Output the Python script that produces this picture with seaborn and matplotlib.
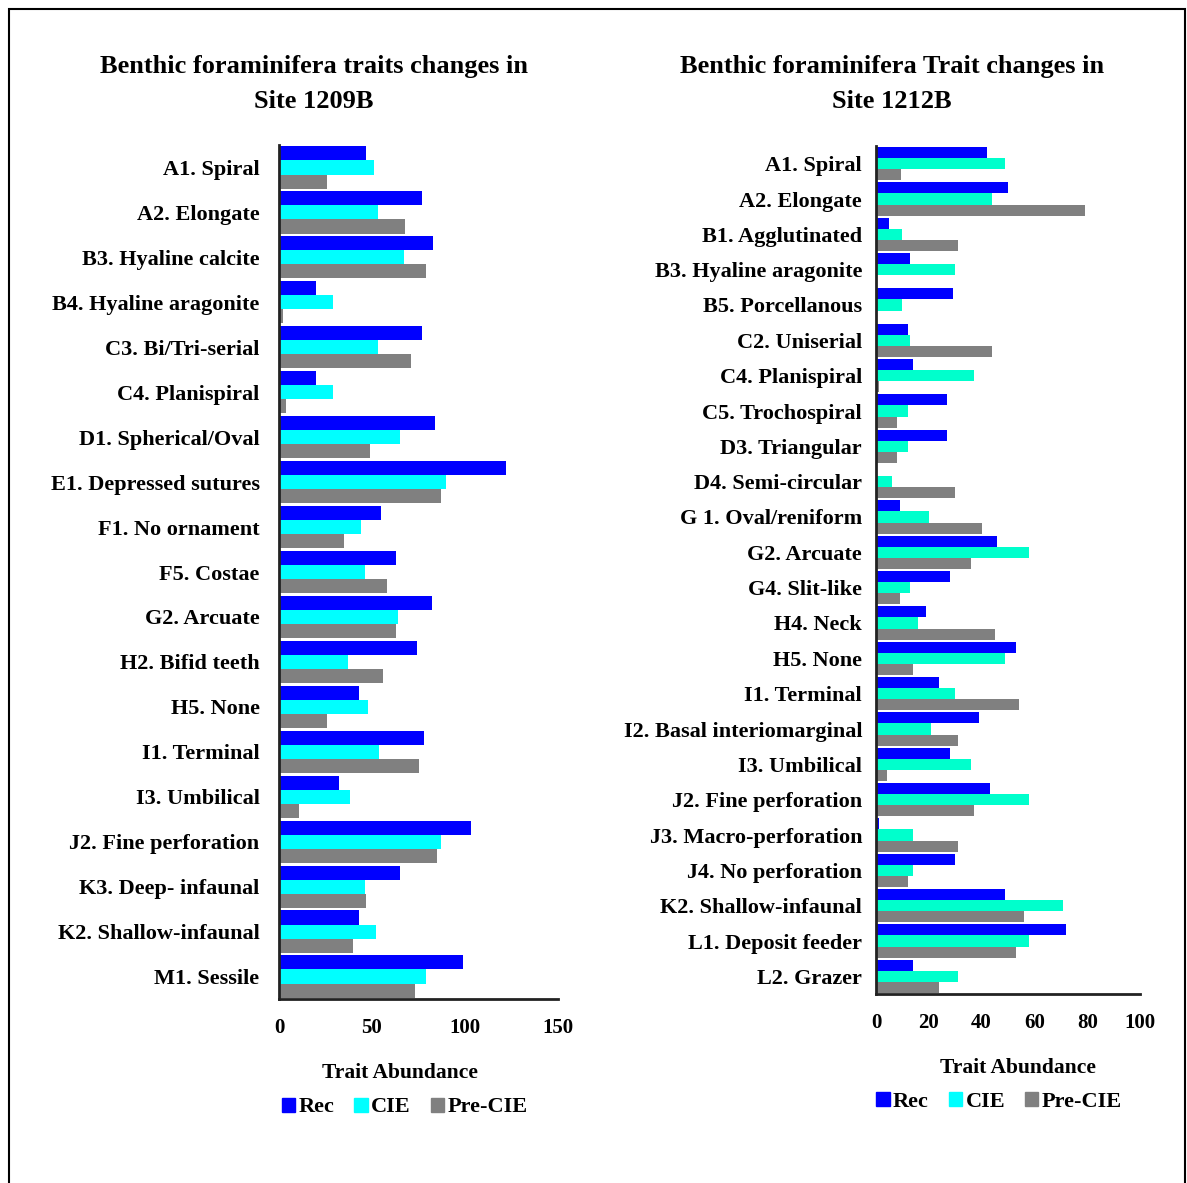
import numpy as np
import pandas as pd
import matplotlib
matplotlib.use('Agg')
import matplotlib.pyplot as plt
import seaborn as sns
from matplotlib.patches import Patch, Rectangle
from matplotlib.ticker import FixedLocator

# Site 1209B
traits_1209 = ['A1. Spiral', 'A2. Elongate', 'B3. Hyaline calcite', 'B4. Hyaline aragonite',
               'C3. Bi/Tri-serial', 'C4. Planispiral', 'D1. Spherical/Oval', 'E1. Depressed sutures',
               'F1. No ornament', 'F5. Costae', 'G2. Arcuate', 'H2. Bifid teeth', 'H5. None',
               'I1. Terminal', 'I3. Umbilical', 'J2. Fine perforation', 'K3. Deep- infaunal',
               'K2. Shallow-infaunal', 'M1. Sessile']
rec_1209 = [47, 77, 83, 20, 77, 20, 84, 122, 55, 63, 82, 74, 43, 78, 32, 103, 65, 43, 99]
cie_1209 = [51, 53, 67, 29, 53, 29, 65, 90, 44, 46, 64, 37, 48, 54, 38, 87, 46, 52, 79]
pre_1209 = [26, 68, 79, 2, 71, 4, 49, 87, 35, 58, 63, 56, 26, 75, 11, 85, 47, 40, 73]

# Site 1212B
traits_1212 = ['A1. Spiral', 'A2. Elongate', 'B1. Agglutinated', 'B3. Hyaline aragonite',
               'B5. Porcellanous', 'C2. Uniserial', 'C4. Planispiral', 'C5. Trochospiral',
               'D3. Triangular', 'D4. Semi-circular', 'G 1. Oval/reniform', 'G2. Arcuate',
               'G4. Slit-like', 'H4. Neck', 'H5. None', 'I1. Terminal', 'I2. Basal interiomarginal',
               'I3. Umbilical', 'J2. Fine perforation', 'J3. Macro-perforation', 'J4. No perforation',
               'K2. Shallow-infaunal', 'L1. Deposit feeder', 'L2. Grazer']
rec_1212 = [42, 50, 5, 13, 29, 12, 14, 27, 27, 0, 9, 46, 28, 19, 53, 24, 39, 28, 43, 1, 30, 49, 72, 14]
cie_1212 = [49, 44, 10, 30, 10, 13, 37, 12, 12, 6, 20, 58, 13, 16, 49, 30, 21, 36, 58, 14, 14, 71, 58, 31]
pre_1212 = [9.5, 79, 31, 0, 0, 44, 1, 8, 8, 30, 40, 36, 9, 45, 14, 54, 31, 4, 37, 31, 12, 56, 53, 24]

periods = ['Rec', 'CIE', 'Pre-CIE']

FONT = ['Liberation Serif', 'DejaVu Serif']


def long_table(traits, rec, cie, pre):
    rows = []
    for name, vals in zip(periods, [rec, cie, pre]):
        for t, v in zip(traits, vals):
            rows.append({'Trait': t, 'Period': name, 'Abundance': v})
    return pd.DataFrame(rows)


def draw_panel(ax, df, traits, colors, xmax, xstep, pad):
    sns.barplot(data=df, y='Trait', x='Abundance', hue='Period', order=traits,
                hue_order=periods, palette=colors, orient='h', width=0.94,
                errorbar=None, saturation=1, linewidth=0, legend=False, ax=ax)
    n = len(traits)
    ax.set_ylim(n - 0.5, -0.5)
    ax.set_xlim(0, xmax)
    ax.set_xticks(np.arange(0, xmax + 1, xstep))
    ax.yaxis.set_minor_locator(FixedLocator(np.arange(n + 1) - 0.5))
    ax.tick_params(axis='y', which='major', length=0, pad=pad, labelsize=16, labelcolor='black')
    ax.tick_params(axis='y', which='minor', length=6, width=2, direction='out', color='#222222')
    ax.tick_params(axis='x', length=6, width=1.5, labelsize=15, pad=8, color='#222222',
                   labelcolor='black')
    for lab in ax.get_yticklabels() + ax.get_xticklabels():
        lab.set_fontweight('bold')
    sns.despine(ax=ax)
    for s in ['left', 'bottom']:
        ax.spines[s].set_linewidth(2)
        ax.spines[s].set_color('#222222')
    ax.set_ylabel('')
    ax.set_xlabel('Trait Abundance', fontsize=15.5, fontweight='bold', color='black')


sns.set_style('white')
plt.rcParams['font.family'] = FONT
plt.rcParams['font.weight'] = 'bold'
plt.rcParams['text.color'] = 'black'

fig = plt.figure(figsize=(11.87, 11.83), dpi=100)

ax1 = fig.add_axes([279 / 1187, 1 - 999 / 1183, 279 / 1187, 854 / 1183])
ax2 = fig.add_axes([876 / 1187, 1 - 994 / 1183, 264 / 1187, 848 / 1183])

df1 = long_table(traits_1209, rec_1209, cie_1209, pre_1209)
df2 = long_table(traits_1212, rec_1212, cie_1212, pre_1212)

draw_panel(ax1, df1, traits_1209, ['#0000FF', '#00FFFF', '#808080'], 150, 50, 14)
draw_panel(ax2, df2, traits_1212, ['#0000FF', '#00FFCC', '#808080'], 100, 20, 10)

ax1.xaxis.set_label_coords(0.434, -0.075)
ax2.xaxis.set_label_coords(0.538, -0.075)

handles = [Patch(color=c) for c in ['#0000FF', '#00FFFF', '#808080']]
for ax, xc in [(ax1, 0.45), (ax2, 0.466)]:
    ax.legend(handles, periods, loc='center', bbox_to_anchor=(xc, -0.127), ncol=3,
              frameon=False, handlelength=0.6, handleheight=0.6, handletextpad=0.15,
              columnspacing=0.9, prop={'family': FONT, 'weight': 'bold', 'size': 16})

fig.text(314 / 1187, 1 - 67 / 1183, 'Benthic foraminifera traits changes in',
         ha='center', va='center', fontsize=19, fontweight='bold')
fig.text(314 / 1187, 1 - 102 / 1183, 'Site 1209B',
         ha='center', va='center', fontsize=19, fontweight='bold')
fig.text(892 / 1187, 1 - 67 / 1183, 'Benthic foraminifera Trait changes in',
         ha='center', va='center', fontsize=19, fontweight='bold')
fig.text(892 / 1187, 1 - 102 / 1183, 'Site 1212B',
         ha='center', va='center', fontsize=19, fontweight='bold')

fig.patches.append(Rectangle((9 / 1187, -0.02), 1176 / 1187, 1 - 9 / 1183 + 0.02,
                             transform=fig.transFigure, fill=False, edgecolor='black',
                             linewidth=1.5))

fig.savefig('out.png', dpi=100)
